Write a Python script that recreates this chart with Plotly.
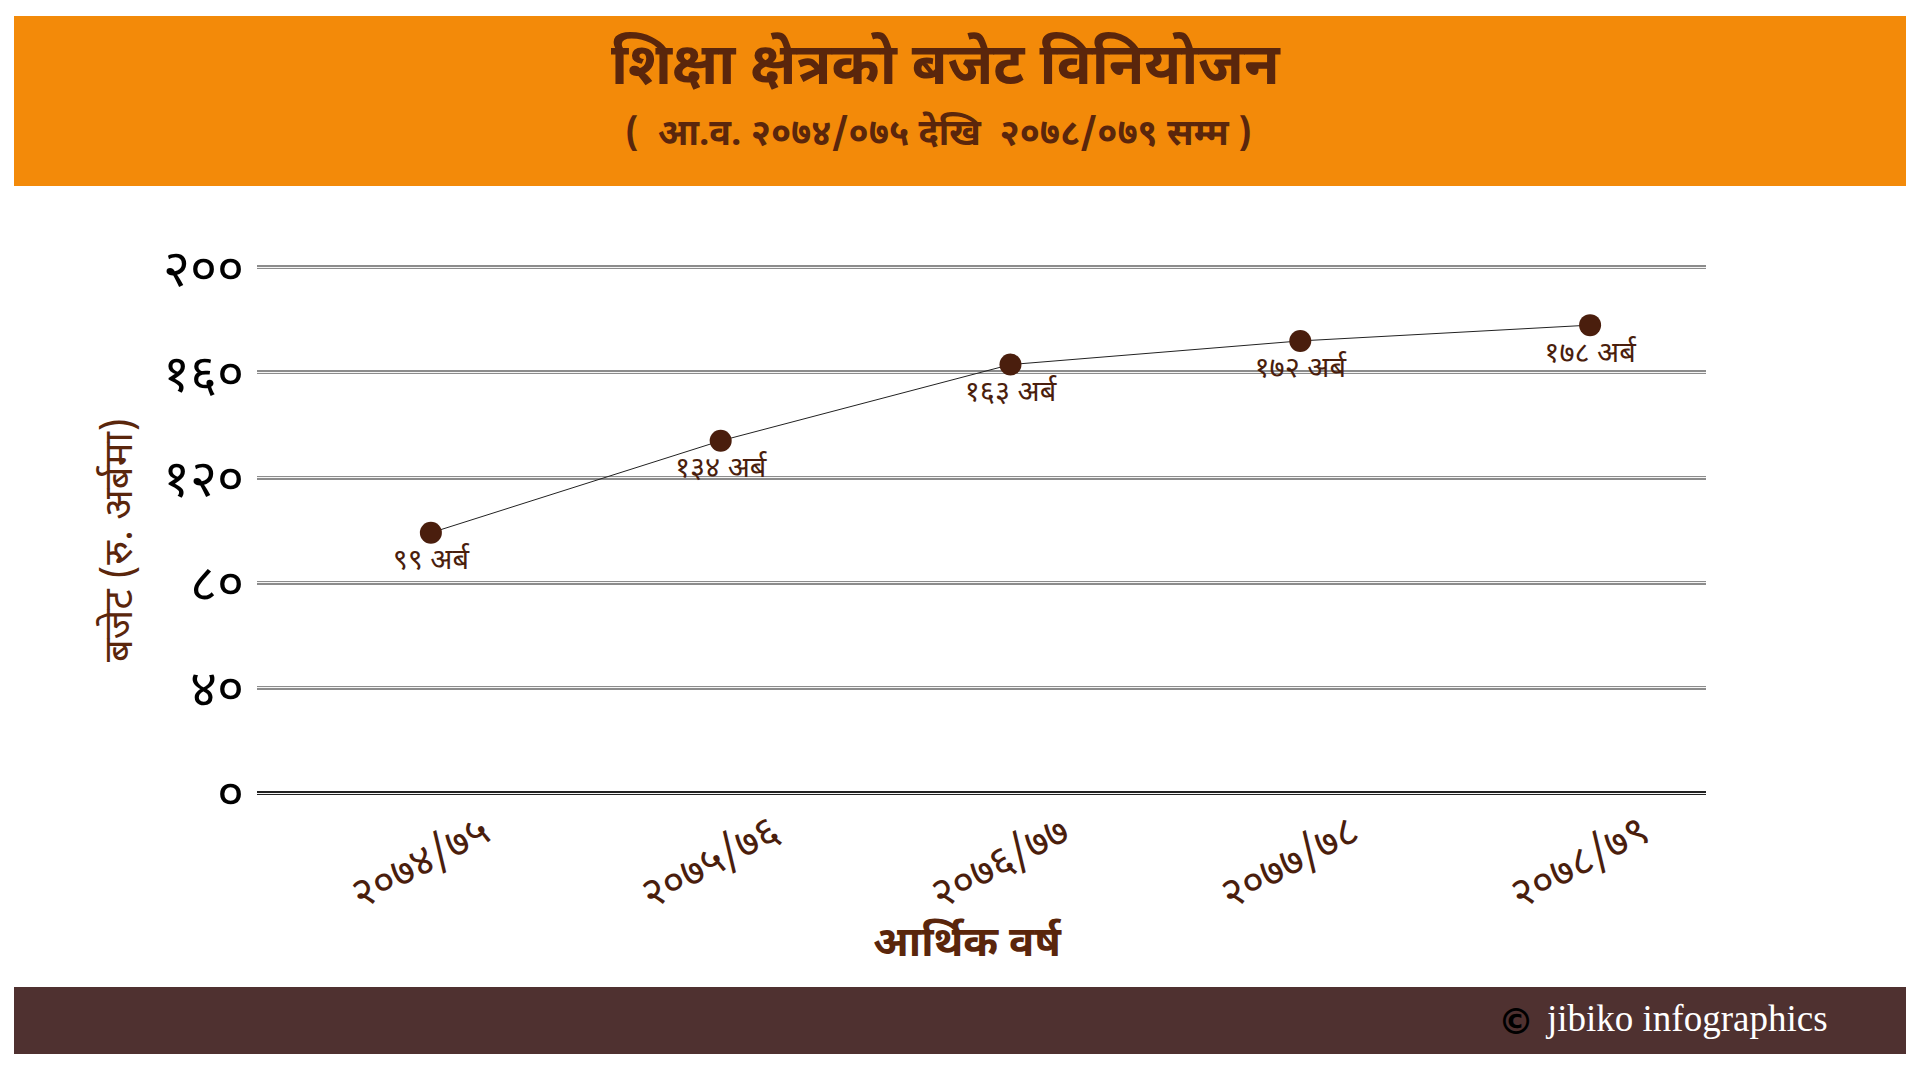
import plotly.graph_objects as go

# ---- data ----
categories = ["२०७४/७५", "२०७५/७६", "२०७६/७७", "२०७७/७८", "२०७८/७९"]
budget = [99, 134, 163, 172, 178]
point_labels = ["९९ अर्ब", "१३४ अर्ब", "१६३ अर्ब", "१७२ अर्ब", "१७८ अर्ब"]
y_tickvals = [0, 40, 80, 120, 160, 200]
y_ticktext = ["०", "४०", "८०", "१२०", "१६०", "२००"]

title_text = "शिक्षा क्षेत्रको बजेट विनियोजन"
subtitle_text = "(  आ.व. २०७४/०७५ देखि  २०७८/०७९ सम्म )"
x_title = "आर्थिक वर्ष"
y_title = "बजेट (रु. अर्बमा)"
credit = "jibiko infographics"

BROWN = "#4A1E0D"
TITLE_BROWN = "#5A260C"
ORANGE = "#F38A09"
FOOTER = "#4F3130"
DEV = "Noto Sans Devanagari, Noto Sans, Lohit Devanagari, sans-serif"

OFF = 8  # page body margin
W, H = 1920 - 2 * OFF, 1080 - 2 * OFF
# plot area in screen pixels: x 257..1706, y 266..793
L, R, T, B = 257 - OFF, W - (1706 - OFF), 266 - OFF, H - (793 - OFF)
pw, ph = W - L - R, H - T - B

def px(x):  # screen pixel -> paper
    return (x - OFF - L) / pw

def py(y):
    return (H - B - (y - OFF)) / ph

fig = go.Figure()
fig.add_trace(go.Scatter(
    x=list(range(len(categories))), y=budget,
    mode="lines+markers+text",
    line=dict(color="#222222", width=1),
    marker=dict(color=BROWN, size=22),
    text=point_labels, textposition="bottom center",
    textfont=dict(family=DEV, size=29, color=BROWN),
    cliponaxis=False, hoverinfo="skip",
))
# invisible trace on overlay axis to create inner white line of double gridlines
fig.add_trace(go.Scatter(x=[0], y=[0], yaxis="y2", mode="markers",
                         marker=dict(opacity=0), hoverinfo="skip"))

yr = [0, 200.5]
fig.update_layout(
    width=W, height=H,
    margin=dict(l=L, r=R, t=T, b=B),
    paper_bgcolor="white", plot_bgcolor="white",
    showlegend=False,
    xaxis=dict(
        tickvals=list(range(len(categories))), ticktext=categories,
        range=[-0.6, 4.4], tickangle=-28,
        tickfont=dict(family=DEV, size=42, color=BROWN),
        showgrid=False, zeroline=False, showline=False, ticks="",
        ticklabelstandoff=6, ticklabelshift=52,
    ),
    yaxis=dict(
        tickvals=y_tickvals, ticktext=y_ticktext, range=yr,
        tickfont=dict(family=DEV, size=52, color="black"),
        showgrid=True, gridcolor="#8c8c8c", gridwidth=4,
        zeroline=True, zerolinecolor="#222222", zerolinewidth=4,
        showline=False, ticks="", ticklabelstandoff=12,
    ),
    yaxis2=dict(
        overlaying="y", side="left", range=yr, tickvals=y_tickvals,
        showticklabels=False, showgrid=True, gridcolor="#f4f4f4", gridwidth=1.3,
        zeroline=True, zerolinecolor="#f4f4f4", zerolinewidth=1.3,
        showline=False, ticks="",
    ),
    shapes=[
        dict(type="rect", xref="paper", yref="paper",
             x0=px(14), x1=px(1906), y0=py(186), y1=py(16),
             fillcolor=ORANGE, line=dict(width=0), layer="below"),
        dict(type="rect", xref="paper", yref="paper",
             x0=px(14), x1=px(1906), y0=py(1054), y1=py(987),
             fillcolor=FOOTER, line=dict(width=0), layer="below"),
    ],
    annotations=[
        dict(text=f"<b>{title_text}</b>", xref="paper", yref="paper",
             x=px(946), y=py(70), xanchor="center", yanchor="middle", showarrow=False,
             font=dict(family=DEV, size=58, color=TITLE_BROWN)),
        dict(text=f"<b>{subtitle_text}</b>", xref="paper", yref="paper",
             x=px(938), y=py(135), xanchor="center", yanchor="middle", showarrow=False,
             font=dict(family=DEV, size=36, color=TITLE_BROWN)),
        dict(text=f"<b>{x_title}</b>", xref="paper", yref="paper",
             x=px(967), y=py(945), xanchor="center", yanchor="middle", showarrow=False,
             font=dict(family=DEV, size=42, color=TITLE_BROWN)),
        dict(text=y_title, xref="paper", yref="paper",
             x=px(122), y=py(540), xanchor="center", yanchor="middle",
             showarrow=False, textangle=-90,
             font=dict(family=DEV, size=40, color=TITLE_BROWN)),
        dict(text="<b>©</b>", xref="paper", yref="paper",
             x=px(1516), y=py(1021), xanchor="center", yanchor="middle", showarrow=False,
             font=dict(family="DejaVu Sans", size=36, color="black")),
        dict(text=credit, xref="paper", yref="paper",
             x=px(1543), y=py(1019), xanchor="left", yanchor="middle", showarrow=False,
             font=dict(family="Liberation Serif", size=37, color="white")),
    ],
)

fig.write_html("out.html")
